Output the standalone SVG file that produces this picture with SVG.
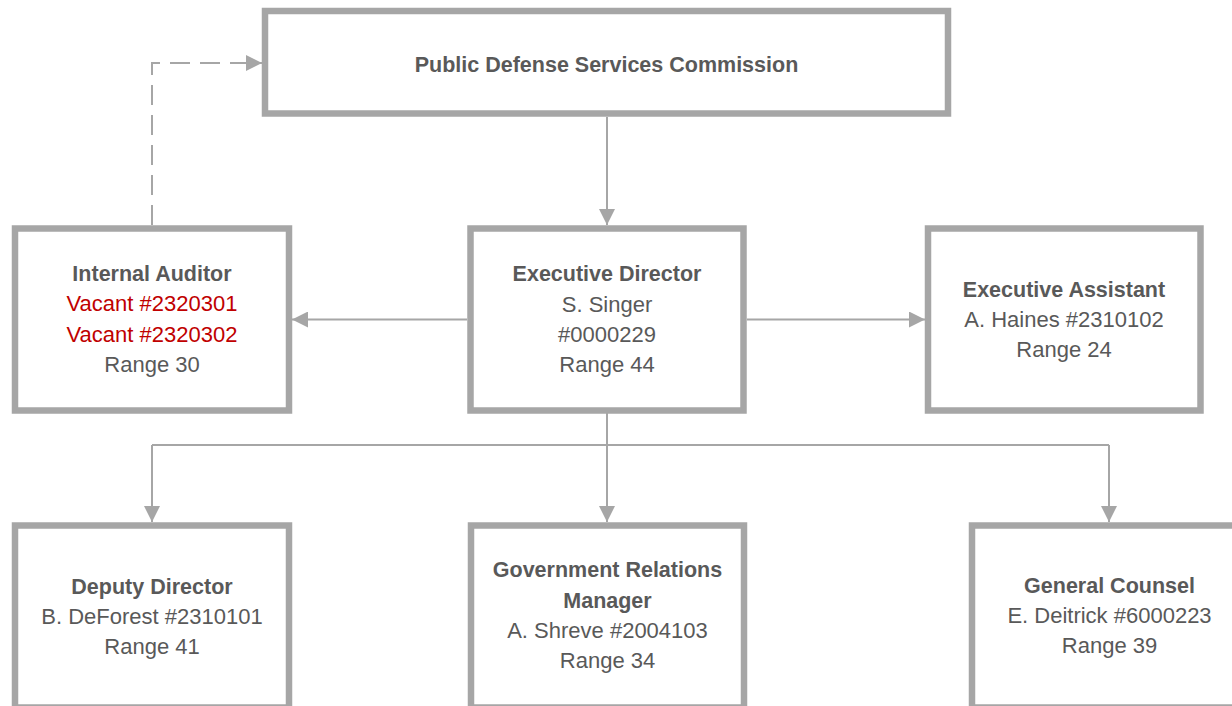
<svg xmlns="http://www.w3.org/2000/svg" width="1232" height="706" viewBox="0 0 1232 706">
<style>
.box{fill:#fff;stroke:#a6a6a6;stroke-width:6.5}
.con{fill:none;stroke:#a6a6a6;stroke-width:2}
.dash{stroke-dasharray:20 10}
text{font-family:"Liberation Sans",Arial,sans-serif;text-anchor:middle;fill:#595959}
.t{font-weight:bold;font-size:21.5px}
.b{font-size:22px}
.red{fill:#c00000}
</style>
<defs>
<marker id="arr" markerUnits="userSpaceOnUse" markerWidth="16" markerHeight="16" refX="16" refY="8" orient="auto">
<path d="M0,0 L16,8 L0,16 z" fill="#a6a6a6"/>
</marker>
</defs>
<rect width="1232" height="706" fill="#fff"/>
<g id="connectors">
<path class="con" d="M607,117 V225" marker-end="url(#arr)"/>
<path class="con dash" d="M152,225 V63 H262" marker-end="url(#arr)"/>
<path class="con" d="M467,319.5 H292" marker-end="url(#arr)"/>
<path class="con" d="M747,319.5 H925" marker-end="url(#arr)"/>
<path class="con" d="M607,413 V445"/>
<path class="con" d="M152,445 H1109"/>
<path class="con" d="M152,445 V522" marker-end="url(#arr)"/>
<path class="con" d="M607,445 V522" marker-end="url(#arr)"/>
<path class="con" d="M1109,445 V522" marker-end="url(#arr)"/>
</g>
<g id="commission">
<rect class="box" x="265" y="11" width="683" height="102.5"/>
<text class="t" x="606.5" y="71.5">Public Defense Services Commission</text>
</g>
<g id="internal-auditor">
<rect class="box" x="15" y="228.5" width="274" height="182"/>
<text class="t" x="152" y="281">Internal Auditor</text>
<text class="b red" x="152" y="311">Vacant #2320301</text>
<text class="b red" x="152" y="342">Vacant #2320302</text>
<text class="b" x="152" y="372">Range 30</text>
</g>
<g id="executive-director">
<rect class="box" x="470.5" y="228.5" width="273" height="182"/>
<text class="t" x="607" y="281">Executive Director</text>
<text class="b" x="607" y="311.5">S. Singer</text>
<text class="b" x="607" y="342">#0000229</text>
<text class="b" x="607" y="372">Range 44</text>
</g>
<g id="executive-assistant">
<rect class="box" x="928" y="228.5" width="272.5" height="182"/>
<text class="t" x="1064" y="297">Executive Assistant</text>
<text class="b" x="1064" y="327">A. Haines #2310102</text>
<text class="b" x="1064" y="357">Range 24</text>
</g>
<g id="deputy-director">
<rect class="box" x="15" y="525.5" width="274" height="182"/>
<text class="t" x="152" y="594">Deputy Director</text>
<text class="b" x="152" y="624">B. DeForest #2310101</text>
<text class="b" x="152" y="654">Range 41</text>
</g>
<g id="government-relations">
<rect class="box" x="471" y="525.5" width="273" height="182"/>
<text class="t" x="607.5" y="577">Government Relations</text>
<text class="t" x="607.5" y="607.5">Manager</text>
<text class="b" x="607.5" y="638">A. Shreve #2004103</text>
<text class="b" x="607.5" y="668">Range 34</text>
</g>
<g id="general-counsel">
<rect class="box" x="972" y="525.5" width="274" height="182"/>
<text class="t" x="1109.5" y="593">General Counsel</text>
<text class="b" x="1109.5" y="623">E. Deitrick #6000223</text>
<text class="b" x="1109.5" y="653">Range 39</text>
</g>
</svg>
